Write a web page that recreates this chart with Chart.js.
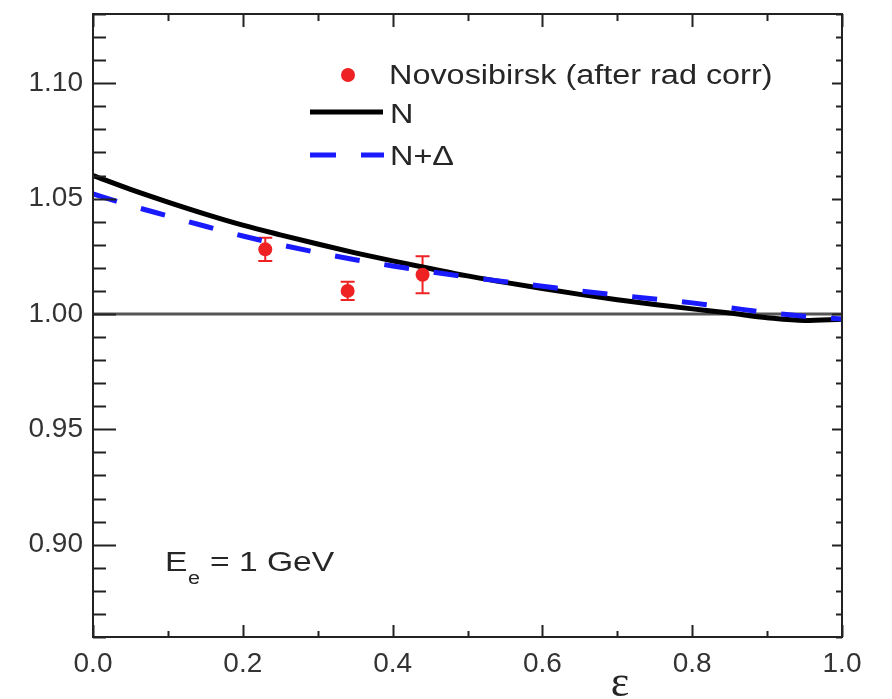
<!DOCTYPE html>
<html>
<head>
<meta charset="utf-8">
<script src="https://cdn.jsdelivr.net/npm/chart.js@4/dist/chart.umd.min.js"></script>
<style>
  body { margin: 0; background: #fff; }
  #chart { display: block; }
</style>
</head>
<body>
<canvas id="chart" width="892" height="699"></canvas>
<script>
// epsilon grid for the two model curves
const eps = [0.00, 0.05, 0.10, 0.15, 0.20, 0.25, 0.30, 0.35, 0.40, 0.45, 0.50,
             0.55, 0.60, 0.65, 0.70, 0.75, 0.80, 0.85, 0.90, 0.95, 1.00];
const ratioN = [1.0600, 1.0540, 1.0485, 1.0433, 1.0385, 1.0343, 1.0303, 1.0265, 1.0230, 1.0197, 1.0165,
                1.0137, 1.0110, 1.0085, 1.0062, 1.0041, 1.0022, 1.0004, 0.9984, 0.9972, 0.9977];
const ratioNDelta = [1.0520, 1.0470, 1.0425, 1.0380, 1.0338, 1.0300, 1.0266, 1.0235, 1.0208, 1.0183, 1.0160,
                     1.0140, 1.0120, 1.0100, 1.0082, 1.0065, 1.0048, 1.0027, 1.0006, 0.9990, 0.9978];

// Novosibirsk points (after radiative corrections)
const dataEps = [0.23, 0.34, 0.44];
const dataRatio = [1.028, 1.010, 1.017];
const dataErr = [0.005, 0.004, 0.008];

const xTicks = [0.0, 0.2, 0.4, 0.6, 0.8, 1.0];
const yTicks = [0.90, 0.95, 1.00, 1.05, 1.10];
const unityLine = [1.0, 1.0];

const FONT = "'Liberation Sans', Arial, Helvetica, sans-serif";
const RED = '#ee2222';
const BLUE = '#1a1aff';

function stretchText(ctx, text, x, y, size, sx) {
  ctx.save();
  ctx.font = size + 'px ' + FONT;
  ctx.translate(x, y);
  ctx.scale(sx, 1);
  ctx.fillText(text, 0, 0);
  ctx.restore();
}

const decorations = {
  id: 'decorations',
  beforeDatasetsDraw(chart) {
    // error bars sit underneath the curves and markers
    const ctx = chart.ctx, xs = chart.scales.x, ys = chart.scales.y;
    ctx.save();
    ctx.strokeStyle = RED;
    ctx.lineWidth = 2;
    dataEps.forEach((e, i) => {
      const px = xs.getPixelForValue(e);
      const top = ys.getPixelForValue(dataRatio[i] + dataErr[i]);
      const bot = ys.getPixelForValue(dataRatio[i] - dataErr[i]);
      ctx.beginPath();
      ctx.moveTo(px, top); ctx.lineTo(px, bot);
      ctx.moveTo(px - 7, top); ctx.lineTo(px + 7, top);
      ctx.moveTo(px - 7, bot); ctx.lineTo(px + 7, bot);
      ctx.stroke();
    });
    ctx.restore();
  },
  afterDatasetsDraw(chart) {
    const ctx = chart.ctx, a = chart.chartArea;
    const xs = chart.scales.x, ys = chart.scales.y;
    ctx.save();
    ctx.strokeStyle = '#222';
    ctx.lineWidth = 2;
    ctx.strokeRect(a.left, a.top, a.right - a.left, a.bottom - a.top);

    // inward ticks on all four sides
    ctx.beginPath();
    for (let i = 0; i <= 10; i++) {
      const px = Math.round(xs.getPixelForValue(i / 10)) + 0.5;
      const major = i % 2 === 0;
      ctx.moveTo(px, a.bottom); ctx.lineTo(px, a.bottom - (major ? 12 : 6));
      ctx.moveTo(px, a.top); ctx.lineTo(px, a.top + (major ? 13 : 7));
    }
    for (let i = 86; i <= 113; i++) {
      const py = Math.round(ys.getPixelForValue(i / 100)) + 0.5;
      const major = i % 5 === 0;
      ctx.moveTo(a.left, py); ctx.lineTo(a.left + (major ? 23 : 13), py);
      ctx.moveTo(a.right, py); ctx.lineTo(a.right - (major ? 10 : 6), py);
    }
    ctx.stroke();

    // legend
    const ds = chart.data.datasets;
    ctx.fillStyle = ds[0].backgroundColor;
    ctx.beginPath();
    ctx.arc(348, 75, 7, 0, Math.PI * 2);
    ctx.fill();

    ctx.lineWidth = 5;
    ctx.strokeStyle = ds[2].borderColor;
    ctx.beginPath();
    ctx.moveTo(310, 112); ctx.lineTo(383, 112);
    ctx.stroke();

    ctx.strokeStyle = ds[1].borderColor;
    ctx.setLineDash([26, 25]);
    ctx.beginPath();
    ctx.moveTo(310, 155); ctx.lineTo(384, 155);
    ctx.stroke();
    ctx.setLineDash([]);

    ctx.fillStyle = '#262626';
    ctx.textBaseline = 'alphabetic';
    ctx.textAlign = 'left';
    stretchText(ctx, ds[0].label, 389, 84, 27, 1.2);
    stretchText(ctx, ds[2].label, 390, 123, 27, 1.2);
    stretchText(ctx, ds[1].label, 390, 165, 27, 1.2);

    // beam energy
    stretchText(ctx, 'E', 165, 571, 28, 1.2);
    stretchText(ctx, 'e', 188, 584, 18, 1.2);
    stretchText(ctx, '= 1 GeV', 210, 571, 28, 1.2);

    // axis title
    ctx.font = "44px 'Liberation Serif', 'DejaVu Serif', serif";
    ctx.textAlign = 'center';
    ctx.fillText('\u03b5', 620, 696);
    ctx.restore();
  }
};

const toPoints = (xv, yv) => xv.map((x, i) => ({ x: x, y: yv[i] }));

new Chart(document.getElementById('chart'), {
  type: 'scatter',
  data: {
    datasets: [
      {
        label: 'Novosibirsk (after rad corr)',
        data: toPoints(dataEps, dataRatio),
        backgroundColor: RED,
        borderWidth: 0,
        pointRadius: 7,
        showLine: false
      },
      {
        label: 'N+\u0394',
        data: toPoints(eps, ratioNDelta),
        borderColor: BLUE,
        borderWidth: 5,
        borderDash: [25, 25],
        pointRadius: 0,
        showLine: true,
        cubicInterpolationMode: 'monotone'
      },
      {
        label: 'N',
        data: toPoints(eps, ratioN),
        borderColor: '#000',
        borderWidth: 5,
        pointRadius: 0,
        showLine: true,
        cubicInterpolationMode: 'monotone'
      },
      {
        label: '',
        data: toPoints([0, 1], unityLine),
        borderColor: '#555',
        borderWidth: 3,
        pointRadius: 0,
        showLine: true
      }
    ]
  },
  options: {
    responsive: false,
    animation: false,
    devicePixelRatio: 1,
    layout: { padding: { top: 14, right: 50, left: 0, bottom: 0 } },
    plugins: {
      legend: { display: false },
      tooltip: { enabled: false }
    },
    scales: {
      x: {
        type: 'linear',
        min: 0,
        max: 1,
        grid: { display: false, drawTicks: false },
        border: { display: false },
        afterBuildTicks: s => { s.ticks = xTicks.map(v => ({ value: v })); },
        afterFit: s => { s.height = 62; s.paddingLeft = 0; s.paddingRight = 0; },
        ticks: {
          autoSkip: false,
          maxRotation: 0,
          padding: 10,
          color: '#333',
          font: { family: FONT, size: 28 },
          callback: v => v.toFixed(1)
        }
      },
      y: {
        type: 'linear',
        min: 0.86,
        max: 1.13,
        grid: { display: false, drawTicks: false },
        border: { display: false },
        afterBuildTicks: s => { s.ticks = yTicks.map(v => ({ value: v })); },
        afterFit: s => { s.width = 93; s.paddingTop = 0; s.paddingBottom = 0; },
        ticks: {
          autoSkip: false,
          padding: 10,
          color: '#333',
          font: { family: FONT, size: 28 },
          callback: v => v.toFixed(2)
        }
      }
    }
  },
  plugins: [decorations]
});
</script>
</body>
</html>
